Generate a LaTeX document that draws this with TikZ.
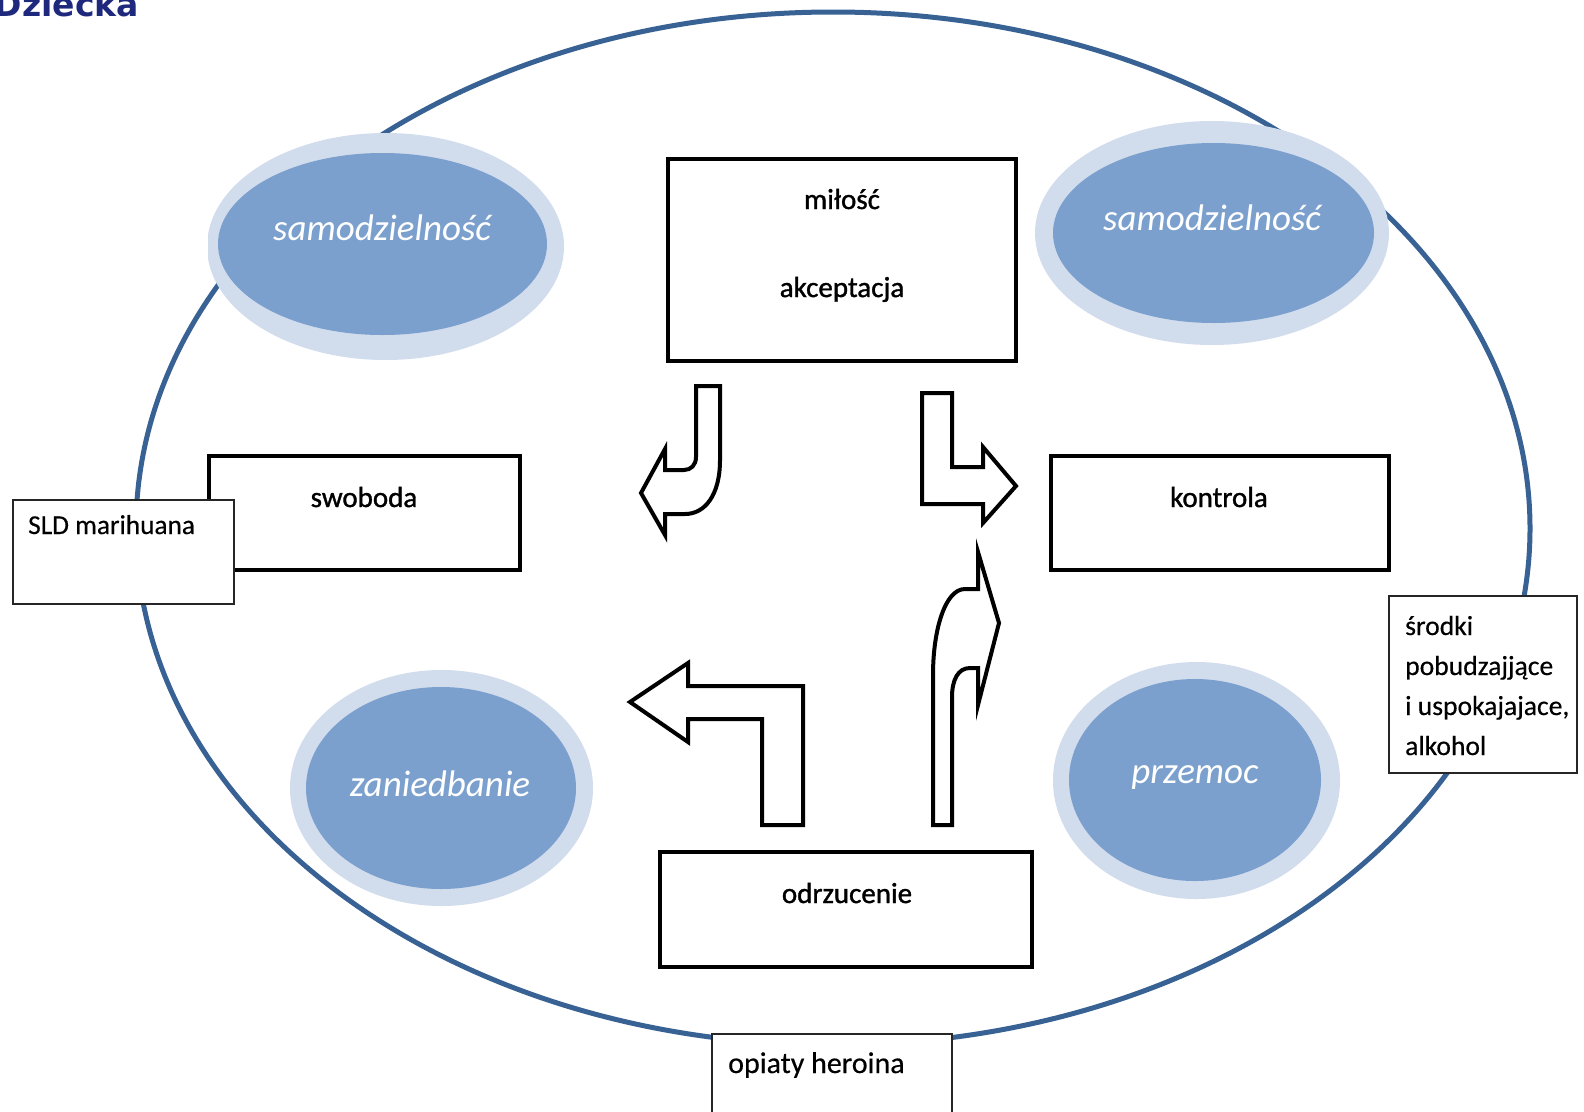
\documentclass[tikz,border=0pt]{standalone}
\usepackage{fontspec}
\setmainfont{Carlito}
\newfontfamily\boxfont{Carlito}[FakeBold=1.2]
\newfontfamily\smallfont{Carlito}[FakeBold=0.4]
\newfontfamily\headfont{DejaVu Sans}
\usetikzlibrary{shapes.geometric}
\definecolor{ringblue}{RGB}{56,97,148}
\definecolor{ovalblue}{RGB}{123,160,205}
\definecolor{halo}{RGB}{209,220,237}
\definecolor{navy}{RGB}{30,40,125}
\begin{document}
\begin{tikzpicture}[x=1pt,y=-1pt,
  ring/.style={draw=ringblue, line width=5pt, ellipse, inner sep=0pt},
  haloshape/.style={fill=halo, ellipse, inner sep=0pt},
  oval/.style={fill=ovalblue, ellipse, inner sep=0pt},
  ovaltext/.style={text=white, font=\fontsize{37}{40}\selectfont\itshape, anchor=base, inner sep=0pt},
  mainbox/.style={draw=black, line width=3.2pt, fill=white, inner sep=0pt},
  boxtext/.style={font=\boxfont\fontsize{29}{32}\selectfont, anchor=base, inner sep=0pt},
  smallbox/.style={draw=black!85, line width=1.4pt, fill=white, inner sep=0pt},
  smalltext/.style={font=\smallfont\fontsize{27.3}{30}\selectfont, anchor=base west, inner sep=0pt},
  blockarrow/.style={draw=black, line width=4pt, fill=white, line join=miter}
]
\useasboundingbox (0,0) rectangle (1584,1111);
\fill[white] (0,0) rectangle (1584,1111);

% heading fragment
\node[font=\headfont\bfseries\fontsize{33}{36}\selectfont, text=navy, anchor=base east, inner sep=0pt] (head) at (139,16) {Dziecka};

% outer ring
\node[ring, minimum width=1394pt, minimum height=1033pt] (ringnode) at (833,528.5) {};

% ovals
\begin{scope}
\clip (208,100) rectangle (620,400);
\node[haloshape, minimum width=357pt, minimum height=227pt] (h1) at (385.5,246.5) {};
\end{scope}
\node[oval, minimum width=329pt, minimum height=182pt] (o1) at (382.5,244) {};
\node[ovaltext] (t1) at (382,240) {samodzielność};

\node[haloshape, minimum width=354pt, minimum height=224pt] (h2) at (1212,233) {};
\node[oval, minimum width=321pt, minimum height=180pt] (o2) at (1213.5,233) {};
\node[ovaltext] (t2) at (1212,230) {samodzielność};

\node[haloshape, minimum width=303pt, minimum height=236pt] (h3) at (441.5,788) {};
\node[oval, minimum width=270pt, minimum height=202pt] (o3) at (441,788) {};
\node[ovaltext] (t3) at (440,796) {zaniedbanie};

\node[haloshape, minimum width=287pt, minimum height=237pt] (h4) at (1196.5,780.5) {};
\node[oval, minimum width=252pt, minimum height=202pt] (o4) at (1195,780) {};
\node[ovaltext] (t4) at (1195,783) {przemoc};

% main boxes
\node[mainbox, minimum width=348pt, minimum height=202pt] (love) at (842,260) {};
\node[boxtext] (lovea) at (842,209) {miłość};
\node[boxtext] (loveb) at (842,297) {akceptacja};

\node[mainbox, minimum width=311pt, minimum height=114pt] (free) at (364.5,513) {};
\node[boxtext] (freet) at (364,507) {swoboda};

\node[mainbox, minimum width=338pt, minimum height=114pt] (ctrl) at (1220,513) {};
\node[boxtext] (ctrlt) at (1219,507) {kontrola};

\node[mainbox, minimum width=372pt, minimum height=115pt] (rej) at (846,909.5) {};
\node[boxtext] (rejt) at (847,903) {odrzucenie};

% block arrows
\draw[blockarrow] (720,386) -- (720,460) .. controls (720,495) and (705,514) .. (685,514)
  -- (665,514) -- (665,535) -- (641,493) -- (665,449) -- (665,470) -- (684,470)
  .. controls (691,470) and (696,465) .. (696,457) -- (696,386) -- cycle;

\draw[blockarrow] (922,393) -- (952,393) -- (952,467) -- (983,467) -- (983,447)
  -- (1016,486) -- (983,523) -- (983,504) -- (922,504) -- cycle;

\draw[blockarrow] (630,702) -- (688,663) -- (688,686) -- (803,686) -- (803,825)
  -- (762,825) -- (762,719) -- (688,719) -- (688,742) -- cycle;

\draw[blockarrow] (933,825) -- (933,675) .. controls (933,630) and (945,589) .. (965,589)
  -- (978,589) -- (978,552) -- (999,623) -- (978,705) -- (978,668) -- (970,668)
  .. controls (958,668) and (952,680) .. (952,697) -- (952,825) -- cycle;

% small boxes
\node[smallbox, minimum width=221pt, minimum height=104pt] (sld) at (123.5,552) {};
\node[smalltext] (sldt) at (28,534) {SLD marihuana};

\node[smallbox, minimum width=188pt, minimum height=177pt] (stim) at (1483,684.5) {};
\node[smalltext, font=\smallfont\fontsize{27.6}{30}\selectfont] (stim1) at (1405,635) {środki};
\node[smalltext, font=\smallfont\fontsize{27.6}{30}\selectfont] (stim2) at (1405,675) {pobudzajjące};
\node[smalltext, font=\smallfont\fontsize{27.6}{30}\selectfont] (stim3) at (1405,715) {i uspokajajace,};
\node[smalltext, font=\smallfont\fontsize{27.6}{30}\selectfont] (stim4) at (1405,755) {alkohol};

\node[smallbox, minimum width=240pt, minimum height=100pt] (opi) at (832,1084) {};
\node[smalltext, font=\smallfont\fontsize{30}{33}\selectfont] (opit) at (728,1073) {opiaty heroina};
\end{tikzpicture}
\end{document}
